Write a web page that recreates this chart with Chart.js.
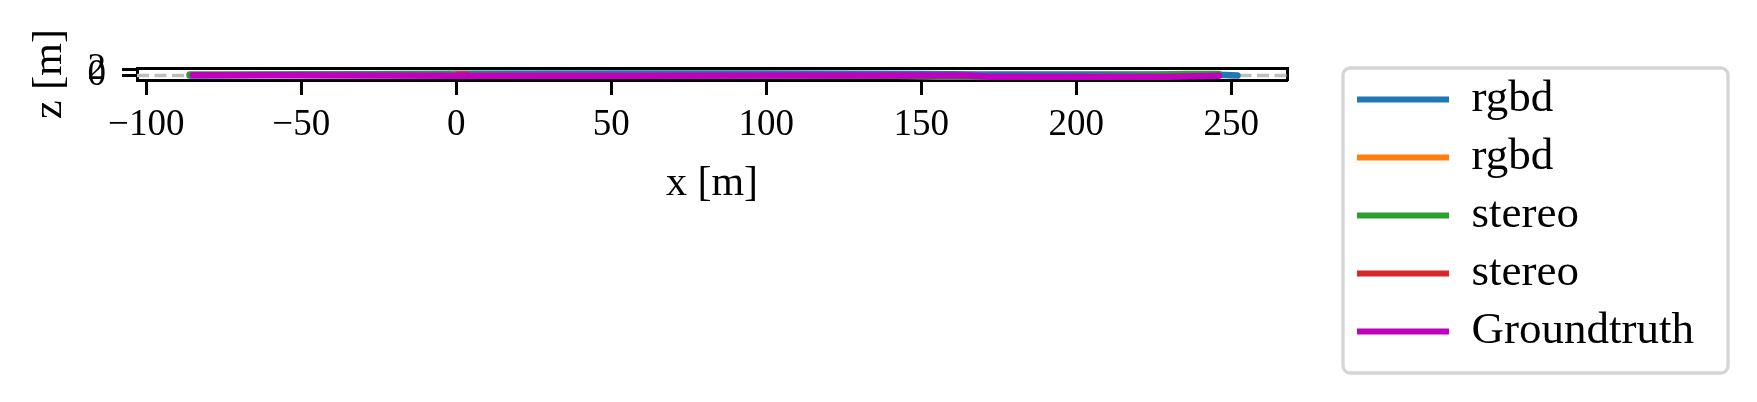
<!DOCTYPE html>
<html>
<head>
<meta charset="utf-8">
<title>Trajetórias x-z</title>
<script src="https://cdn.jsdelivr.net/npm/chart.js@4.4.1/dist/chart.umd.min.js"></script>
<style>
  html, body { margin: 0; padding: 0; background: #fff; }
  canvas { display: block; }
</style>
</head>
<body>
<canvas id="graficoTrajetorias" width="1757" height="402"></canvas>
<script>
// Trajetorias (x, z) em metros
const rgbdX = [-86, -50, 0, 50, 100, 150, 169, 200, 240, 248, 252];
const rgbdZ = [0.0, 0.3, 0.6, 0.7, 0.7, 0.5, 0.35, 0.35, 0.35, 0.2, 0.0];

const rgbd2X = [-1.5, 0, 1.5];
const rgbd2Z = [0.3, 0.35, 0.3];

const stereoX = [-86, -60, -30, -5, 20, 60, 100, 140, 165, 170, 180, 200, 225, 235, 246];
const stereoZ = [0.3, 0.35, 0.35, 0.3, 0.1, 0.0, 0.0, -0.1, -0.6, -1.0, -0.6, -0.3, 0.1, 0.5, 0.5];

const stereo2X = [0.5, 2, 3.5];
const stereo2Z = [0.3, 0.3, 0.25];

const gtX = [-85, -60, -30, 0, 30, 60, 100, 140, 165, 172, 200, 230, 246];
const gtZ = [0.05, 0.05, 0.0, -0.1, -0.1, -0.1, 0.0, 0.0, 0.0, -0.4, -0.4, -0.4, -0.1];

// linha de referencia z = 0
const refX = [-103, 268];
const refZ = [0, 0];

const xTicks = [-100, -50, 0, 50, 100, 150, 200, 250];
const zTicks = [0, 2];
const xLimites = [-103, 268];
const zLimites = [-1.5, 2.5];

function pontos(xs, zs) {
    return xs.map((x, i) => ({ x: x, y: zs[i] }));
}

function linha(label, xs, zs, cor, ordem) {
    return {
        label: label,
        data: pontos(xs, zs),
        borderColor: cor,
        backgroundColor: cor,
        borderWidth: 6.5,
        borderCapStyle: 'round',
        borderJoinStyle: 'round',
        pointRadius: 0,
        showLine: true,
        fill: false,
        order: ordem
    };
}

// moldura arredondada em volta da legenda
const molduraLegenda = {
    id: 'molduraLegenda',
    afterDraw(chart) {
        const leg = chart.legend;
        const c = chart.ctx;
        c.save();
        c.strokeStyle = '#d5d5d5';
        c.lineWidth = 3.3;
        c.beginPath();
        c.roundRect(leg.left - 1, leg.top + 4, 385, 305, 7);
        c.stroke();
        c.restore();
    }
};

function criarGrafico() {
    const ctx = document.getElementById('graficoTrajetorias').getContext('2d');

    Chart.defaults.font.family = "'Liberation Serif', 'Times New Roman', serif";
    Chart.defaults.color = '#000';

    const referencia = linha('ref', refX, refZ, 'rgb(190,190,190)', 10);
    referencia.borderWidth = 3.3;
    referencia.borderDash = [12, 5.5];
    referencia.borderCapStyle = 'butt';

    const bordaPreta = { display: true, color: '#000', width: 3 };

    window.meuGrafico = new Chart(ctx, {
        type: 'scatter',
        data: {
            datasets: [
                linha('rgbd', rgbdX, rgbdZ, '#1f77b4', 5),
                linha('rgbd', rgbd2X, rgbd2Z, '#ff7f0e', 4),
                linha('stereo', stereoX, stereoZ, '#2ca02c', 3),
                linha('stereo', stereo2X, stereo2Z, '#d62728', 2),
                linha('Groundtruth', gtX, gtZ, '#bf00bf', 1),
                referencia
            ]
        },
        options: {
            responsive: false,
            animation: false,
            devicePixelRatio: 1,
            layout: { padding: { top: 64, right: 53, bottom: 0, left: 0 } },
            plugins: {
                tooltip: { enabled: false },
                legend: {
                    position: 'right',
                    align: 'start',
                    maxWidth: 500,
                    labels: {
                        boxWidth: 92,
                        boxHeight: 6,
                        padding: 13,
                        color: '#000',
                        font: { size: 45 },
                        filter: item => item.datasetIndex < 5,
                        sort: (a, b) => a.datasetIndex - b.datasetIndex,
                        generateLabels: chart => Chart.defaults.plugins.legend.labels
                            .generateLabels(chart)
                            .map(item => Object.assign(item, { lineWidth: 0 }))
                    }
                }
            },
            scales: {
                x: {
                    type: 'linear',
                    position: 'bottom',
                    min: xLimites[0],
                    max: xLimites[1],
                    afterBuildTicks: s => { s.ticks = xTicks.map(v => ({ value: v })); },
                    afterFit: s => { s.height = 322; },
                    ticks: {
                        font: { size: 37 },
                        padding: 8,
                        autoSkip: false,
                        maxRotation: 0,
                        callback: v => String(v).replace('-', '\u2212')
                    },
                    grid: { display: true, drawOnChartArea: false, drawTicks: true, tickLength: 15, tickWidth: 3, tickColor: '#000' },
                    border: bordaPreta,
                    title: { display: true, text: 'x [m]', font: { size: 42, lineHeight: 1 }, padding: { top: 0, bottom: 197 } }
                },
                y: {
                    type: 'linear',
                    position: 'left',
                    min: zLimites[0],
                    max: zLimites[1],
                    afterBuildTicks: s => { s.ticks = zTicks.map(v => ({ value: v })); },
                    afterFit: s => { s.width = 137; },
                    ticks: {
                        font: { size: 37 },
                        padding: 16,
                        autoSkip: false,
                        callback: v => String(v).replace('-', '\u2212')
                    },
                    grid: { display: true, drawOnChartArea: false, drawTicks: true, tickLength: 15, tickWidth: 3, tickColor: '#000' },
                    border: bordaPreta,
                    title: { display: true, text: 'z [m]', font: { size: 42, lineHeight: 1 }, padding: { top: 29, bottom: 0 } }
                },
                x2: {
                    type: 'linear',
                    position: 'top',
                    min: xLimites[0],
                    max: xLimites[1],
                    afterFit: s => { s.height = 4; },
                    ticks: { display: false },
                    grid: { display: false },
                    border: bordaPreta
                },
                y2: {
                    type: 'linear',
                    position: 'right',
                    min: zLimites[0],
                    max: zLimites[1],
                    afterFit: s => { s.width = 57; },
                    ticks: { display: false },
                    grid: { display: false },
                    border: bordaPreta
                }
            }
        },
        plugins: [molduraLegenda]
    });
}

window.addEventListener('DOMContentLoaded', criarGrafico);
</script>
</body>
</html>
